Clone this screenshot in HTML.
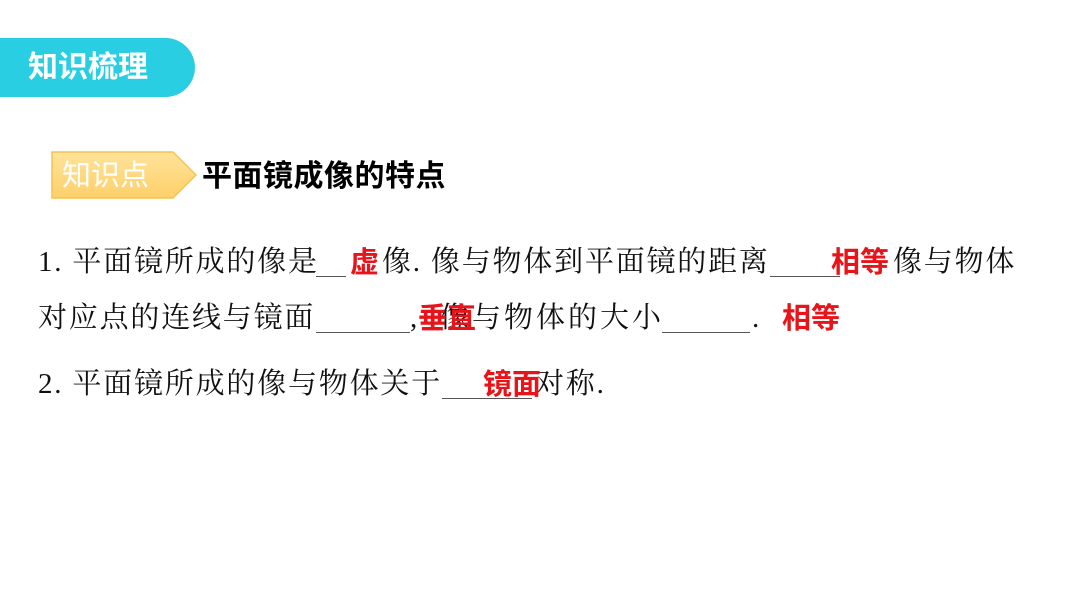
<!DOCTYPE html>
<html><head><meta charset="utf-8"><style>
body{margin:0;width:1066px;height:600px;background:#fff;position:relative;overflow:hidden;font-family:"Liberation Serif","Noto Serif CJK SC",serif;}
.a{position:absolute;white-space:nowrap;line-height:1;}
.t{font-size:29px;color:#111;letter-spacing:1.8px;}
.u{position:absolute;height:1px;background:#555;}
.r{font-size:29px;color:#e8141a;font-weight:bold;font-family:"Liberation Sans","Noto Sans CJK SC",sans-serif;}
</style></head><body>
<div class="a" style="left:0;top:38px;width:195px;height:59px;background:#29cee3;border-radius:0 30px 30px 0;"></div>
<div class="a" style="left:28px;top:53px;font-size:30px;color:#fff;font-weight:bold;font-family:'Liberation Sans','Noto Sans CJK SC',sans-serif;">知识梳理</div>
<svg class="a" style="left:50px;top:150px" width="150" height="52"><defs><linearGradient id="g" x1="0" y1="0" x2="0" y2="1"><stop offset="0" stop-color="#ffe39a"/><stop offset="1" stop-color="#fdd06a"/></linearGradient></defs><polygon points="2,2 123,2 146,25 123,48 2,48" fill="url(#g)" stroke="#f6c34f" stroke-width="1.5"/></svg>
<div class="a" style="left:62px;top:162px;font-size:29px;color:#fff;font-family:'Liberation Sans','Noto Sans CJK SC',sans-serif;">知识点</div>
<div class="a" style="left:202px;top:162px;font-size:30px;color:#000;font-weight:bold;letter-spacing:0.5px;font-family:'Liberation Sans','Noto Sans CJK SC',sans-serif;">平面镜成像的特点</div>

<div class="a t" style="left:38px;top:248px;">1. 平面镜所成的像是</div>
<div class="u" style="left:316px;top:276px;width:30px"></div>
<div class="a t" style="left:382px;top:248px;">像. 像与物体到平面镜的距离</div>
<div class="u" style="left:770px;top:276px;width:70px"></div>
<div class="a t" style="left:893px;top:248px;">像与物体</div>
<div class="a r" style="left:350px;top:249px;">虚</div>
<div class="a r" style="left:831px;top:249px;">相等</div>

<div class="a t" style="left:38px;top:304px;">对应点的连线与镜面</div>
<div class="u" style="left:316px;top:332px;width:94px"></div>
<div class="a t" style="left:410px;top:304px;">,</div>
<div class="a t" style="left:440px;top:304px;letter-spacing:3px;">像与物体的大小</div>
<div class="u" style="left:662px;top:332px;width:88px"></div>
<div class="a t" style="left:752px;top:304px;">.</div>
<div class="a r" style="left:418px;top:305px;">垂直</div>
<div class="a r" style="left:782px;top:305px;">相等</div>

<div class="a t" style="left:38px;top:370px;">2. 平面镜所成的像与物体关于</div>
<div class="u" style="left:442px;top:398px;width:90px"></div>
<div class="a t" style="left:535px;top:370px;">对称.</div>
<div class="a r" style="left:483px;top:371px;">镜面</div>
</body></html>
